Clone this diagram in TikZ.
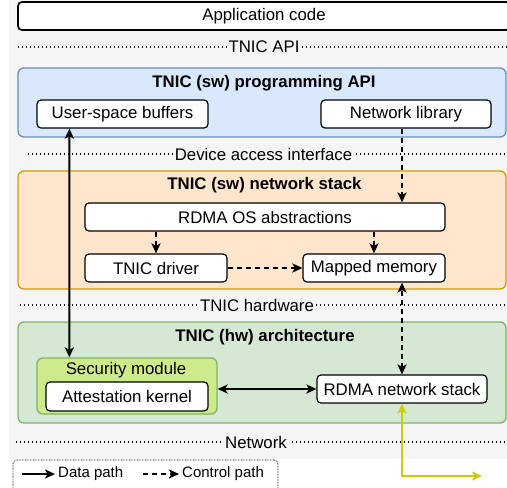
\documentclass[tikz,border=0pt]{standalone}
\usepackage{fontspec}
\setmainfont{Liberation Sans}
\usetikzlibrary{arrows.meta}
\definecolor{bggray}{HTML}{F5F5F5}
\definecolor{apifill}{HTML}{DAE8FC}
\definecolor{apiline}{HTML}{6C8EBF}
\definecolor{stackfill}{HTML}{FFE6CC}
\definecolor{stackline}{HTML}{D79B00}
\definecolor{hwfill}{HTML}{D5E8D4}
\definecolor{hwline}{HTML}{82B366}
\definecolor{secfill}{HTML}{CDEB8B}
\definecolor{netline}{HTML}{CCCC00}
\tikzset{
  >={Stealth[length=10pt,width=9pt,inset=2.5pt]},
  x=1pt, y=-1pt,
}
\tikzstyle{every node}=[font=\fontsize{16.8}{19}\selectfont]
\tikzstyle{layer}=[draw,rounded corners=6pt,line width=1.3pt,inner sep=0pt]
\tikzstyle{block}=[draw,fill=white,rounded corners=4pt,line width=1.2pt,inner sep=0pt]
\tikzstyle{title}=[font=\fontsize{16.8}{19}\selectfont\bfseries]
\tikzstyle{sep}=[line width=1.6pt,dash pattern=on 1.4pt off 2.6pt]
\tikzstyle{seplabel}=[fill=bggray,inner sep=2pt]
\tikzstyle{data}=[line width=2pt,<->]
\tikzstyle{control}=[line width=2pt,->,dash pattern=on 5pt off 4pt]
\tikzstyle{legtext}=[font=\fontsize{15}{18}\selectfont,anchor=west,inner sep=3pt]

\begin{document}
\begin{tikzpicture}
    \useasboundingbox (0,0) rectangle (507,488);
    \fill[bggray] (9,0) rectangle (507,459);

    \node[block,line width=1.8pt,minimum width=492pt,minimum height=28pt] (app) at (264,16) {Application code};
    \draw[sep] (18,47) -- (507,47);
    \node[seplabel] (tnicapi) at (264,47) {TNIC API};

    \node[layer,fill=apifill,draw=apiline,minimum width=488pt,minimum height=69pt] (api) at (262,102.5) {};
    \node[title] (apititle) at (264,83) {TNIC (sw) programming API};
    \node[block,minimum width=171pt,minimum height=28pt] (userbuf) at (122.5,114) {User-space buffers};
    \node[block,minimum width=170pt,minimum height=28pt] (netlib) at (406,114) {Network library};

    \draw[sep] (28,154) -- (507,154);
    \node[seplabel] (devaccess) at (263.5,154) {Device access interface};

    \node[layer,fill=stackfill,draw=stackline,minimum width=488pt,minimum height=118pt] (stack) at (262,230) {};
    \node[title] (stacktitle) at (264.5,185) {TNIC (sw) network stack};
    \node[block,minimum width=360pt,minimum height=28pt] (rdmaos) at (265,217) {RDMA OS abstractions};
    \node[block,minimum width=142pt,minimum height=28pt] (driver) at (156,268) {TNIC driver};
    \node[block,minimum width=142pt,minimum height=28pt] (mapmem) at (374,268) {Mapped memory};

    \draw[sep] (20,305) -- (507,305);
    \node[seplabel] (tnichw) at (257,305) {TNIC hardware};

    \node[layer,fill=hwfill,draw=hwline,minimum width=488pt,minimum height=101pt] (hw) at (262,372.5) {};
    \node[title] (hwtitle) at (265,337) {TNIC (hw) architecture};
    \node[layer,fill=secfill,draw=hwline,minimum width=180pt,minimum height=56pt] (secmod) at (127,386) {};
    \node (sectitle) at (126,370) {Security module};
    \node[block,minimum width=162pt,minimum height=29pt] (attest) at (127,396.5) {Attestation kernel};
    \node[block,minimum width=170pt,minimum height=28pt] (rdmanet) at (402,389) {RDMA network stack};

    \draw[sep] (16,442) -- (507,442);
    \node[seplabel] (network) at (256,442) {Network};

    \draw[data] ([xshift=33pt]userbuf.south west) -- ([xshift=33pt]secmod.north west);
    \draw[data] (secmod.east |- rdmanet.west) -- (rdmanet.west);
    \draw[control] ([xshift=-4pt]netlib.south) -- ([xshift=-4pt]netlib.south |- rdmaos.north);
    \draw[control] (rdmaos.south -| driver.north) -- (driver.north);
    \draw[control] (rdmaos.south -| mapmem.north) -- (mapmem.north);
    \draw[control] (driver.east) -- (mapmem.west);
    \draw[control,<->] (rdmanet.north) -- (rdmanet.north |- mapmem.south);
    \coordinate (netout) at (482,476);
    \draw[data,draw=netline] (rdmanet.south) |- (netout);

    \node[draw=gray,line width=1.2pt,dash pattern=on 0.8pt off 0.8pt,rounded corners=4pt,minimum width=265pt,minimum height=32pt] (legend) at (145.5,476) {};
    \coordinate (datafrom) at (22,474);
    \node[legtext] (datatxt) at (55,474) {Data path};
    \draw[line width=2pt,->] (datafrom) -- (datatxt.west);
    \coordinate (ctrlfrom) at (143,474);
    \node[legtext] (ctrltxt) at (179,474) {Control path};
    \draw[control] (ctrlfrom) -- (ctrltxt.west);
\end{tikzpicture}
\end{document}
